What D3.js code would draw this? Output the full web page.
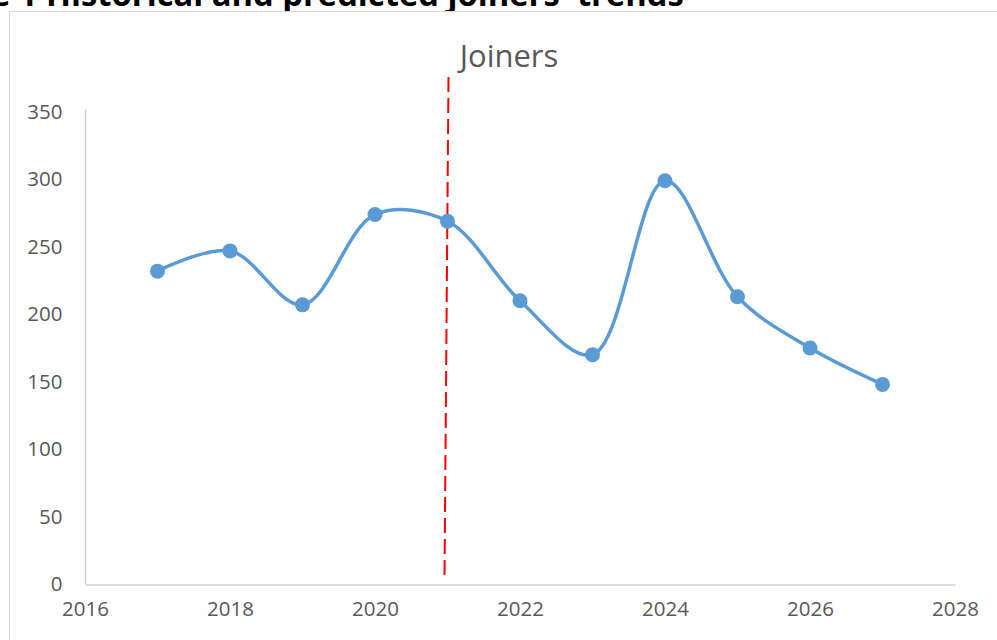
<!DOCTYPE html>
<html>
<head>
<meta charset="utf-8">
<script src="https://cdn.jsdelivr.net/npm/d3@7"></script>
<style>
  html, body { margin: 0; padding: 0; background: #fff; overflow: hidden; }
  svg { display: block; }
</style>
</head>
<body>
<div id="chart"></div>
<script>
// values
var years = [2017, 2018, 2019, 2020, 2021, 2022, 2023, 2024, 2025, 2026, 2027];
var joiners = [232, 247, 207, 274, 269, 210, 170, 299, 213, 175, 148];
var xTicks = [2016, 2018, 2020, 2022, 2024, 2026, 2028];
var yTicks = [0, 50, 100, 150, 200, 250, 300, 350];
var splitYear = 2021;
var captionLabel = "Figure 1 ";
var captionText = "Historical and predicted joiners' trends";

var width = 997, height = 640;
var font = "'Open Sans', 'Noto Sans', sans-serif";
var grey = "#595959", blue = "#5b9bd5";

var svg = d3.select("#chart").append("svg")
    .attr("width", width)
    .attr("height", height);

// caption above the chart box (cut off by the window, as in the source)
var caption = svg.append("text")
    .attr("y", 6)
    .attr("font-family", font)
    .attr("font-weight", "bold")
    .attr("font-size", 28)
    .attr("fill", "#000");
var capLabel = caption.append("tspan").text(captionLabel);
var capMain = caption.append("tspan").text(captionText);
// fit the main part between x=46 and x=684
var mainW = capMain.node().getComputedTextLength();
var fs = 28 * 638 / mainW;
caption.attr("font-size", fs);
var labelW = capLabel.node().getComputedTextLength();
caption.attr("x", 46 - labelW);

// chart area border
svg.append("rect")
    .attr("x", 9.5).attr("y", 11.5)
    .attr("width", 1000).attr("height", 700)
    .attr("fill", "#fff")
    .attr("stroke", "#d9d9d9")
    .attr("stroke-width", 1);

var x = d3.scaleLinear().domain([2016, 2028]).range([85, 955]);
var y = d3.scaleLinear().domain([0, 350]).range([584, 112]);

svg.append("text")
    .attr("x", 509).attr("y", 67)
    .attr("text-anchor", "middle")
    .attr("font-family", font)
    .attr("font-size", 31)
    .attr("fill", grey)
    .text("Joiners");

// y axis
var yAxis = svg.append("g")
    .attr("transform", "translate(85.5,0)")
    .call(d3.axisLeft(y).tickValues(yTicks).tickSize(0).tickPadding(23));
yAxis.select(".domain").attr("stroke", "#d0d0d0").attr("stroke-width", 1.5)
    .attr("d", "M0," + (y(350) - 2) + "V" + y(0));
yAxis.selectAll("text").attr("font-family", font).attr("font-size", 20.5).attr("fill", grey);

// x axis
var xAxis = svg.append("g")
    .attr("transform", "translate(0," + (y(0) + 0.5) + ")")
    .call(d3.axisBottom(x).tickValues(xTicks).tickFormat(d3.format("d")).tickSize(0).tickPadding(17));
xAxis.select(".domain").attr("stroke", "#d0d0d0").attr("stroke-width", 1.5);
xAxis.selectAll("text").attr("font-family", font).attr("font-size", 20.5).attr("fill", grey);

// dashed divider between historical and predicted
svg.append("line")
    .attr("x1", x(splitYear) + 1).attr("y1", 77)
    .attr("x2", x(splitYear) - 3).attr("y2", 578)
    .attr("stroke", "#ff0000")
    .attr("stroke-width", 2)
    .attr("stroke-dasharray", "15,6");

var data = years.map(function(d, i){ return {year: d, value: joiners[i]}; });

var line = d3.line()
    .x(function(d){ return x(d.year); })
    .y(function(d){ return y(d.value); })
    .curve(d3.curveCatmullRom.alpha(0.5));

svg.append("path")
    .datum(data)
    .attr("fill", "none")
    .attr("stroke", blue)
    .attr("stroke-width", 3.5)
    .attr("stroke-linecap", "round")
    .attr("d", line);

svg.append("g").selectAll("circle")
    .data(data)
    .enter().append("circle")
    .attr("cx", function(d){ return x(d.year); })
    .attr("cy", function(d){ return y(d.value); })
    .attr("r", 7.5)
    .attr("fill", blue);
</script>
</body>
</html>
